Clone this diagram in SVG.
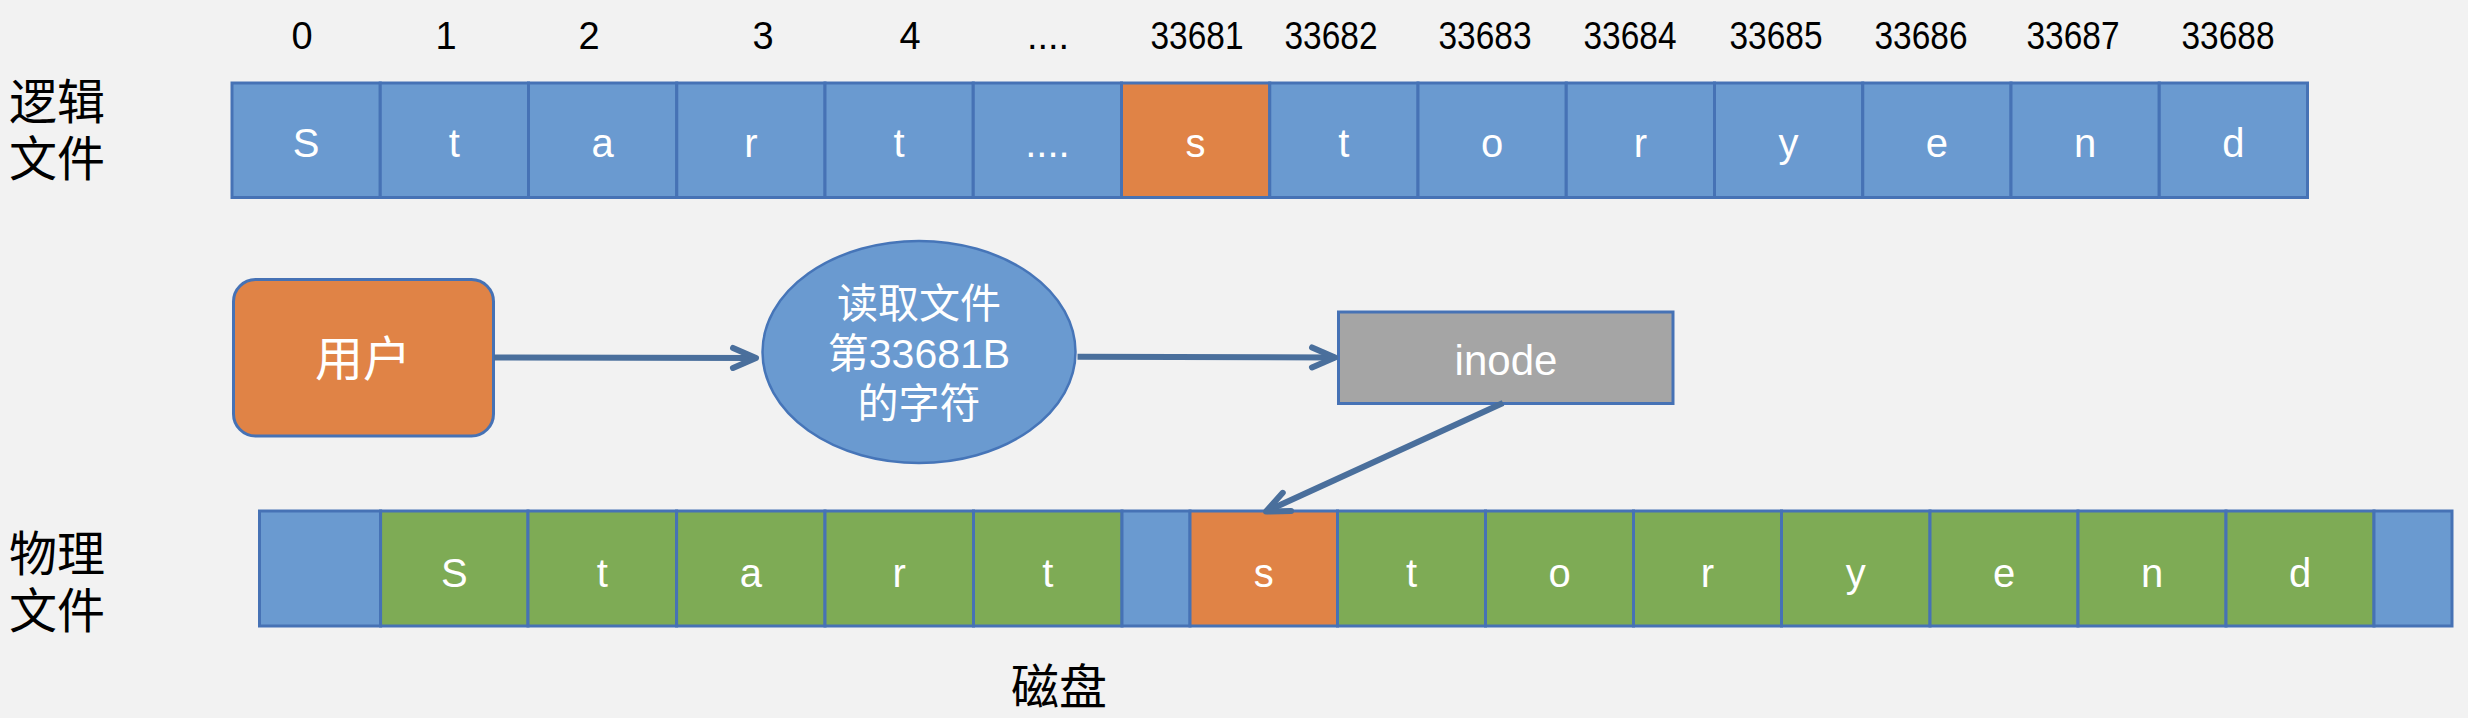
<svg xmlns="http://www.w3.org/2000/svg" width="2468" height="718" viewBox="0 0 2468 718">
<defs>
<style>
.bg{fill:#F2F2F2}
.cell{stroke:#4672B5;stroke-width:3}
.blue{fill:#6A9AD0}
.orange{fill:#E08346}
.green{fill:#7EAB55}
.gray{fill:#A5A5A5}
.ch{font-family:"Liberation Sans","Noto Sans CJK SC",sans-serif;font-size:40px;fill:#FFFFFF;text-anchor:middle}
.idx{font-family:"Liberation Sans","Noto Sans CJK SC",sans-serif;font-size:38px;fill:#000000;text-anchor:middle}
.lbl{font-family:"Noto Sans CJK SC",sans-serif;font-size:48px;fill:#000000}
.wt{font-family:"Liberation Sans","Noto Sans CJK SC",sans-serif;fill:#FFFFFF;text-anchor:middle}
.conn{fill:none;stroke:#4A6F9C;stroke-width:6}
</style>
<marker id="arr" markerUnits="userSpaceOnUse" markerWidth="40" markerHeight="40" viewBox="-30 -20 40 40" refX="0" refY="0" orient="auto">
<path d="M-23,-10 L0,0 L-23,10" fill="none" stroke="#4A6F9C" stroke-width="6" stroke-linecap="round" stroke-linejoin="round"/>
</marker>
</defs>
<rect class="bg" x="0" y="0" width="2468" height="718"/>

<g id="labels">
<text class="lbl" x="9" y="119">逻辑<tspan x="9" dy="57">文件</tspan></text>
<text class="lbl" x="9" y="571">物理<tspan x="9" dy="57">文件</tspan></text>
<text class="lbl" x="1059" y="704" text-anchor="middle">磁盘</text>
</g>

<g id="indices">
<text class="idx" x="302" y="49">0</text>
<text class="idx" x="446" y="49">1</text>
<text class="idx" x="589" y="49">2</text>
<text class="idx" x="763" y="49">3</text>
<text class="idx" x="910" y="49">4</text>
<text class="idx" x="1048" y="49">....</text>
<text class="idx" x="1197" y="49" textLength="93" lengthAdjust="spacingAndGlyphs">33681</text>
<text class="idx" x="1331" y="49" textLength="93" lengthAdjust="spacingAndGlyphs">33682</text>
<text class="idx" x="1485" y="49" textLength="93" lengthAdjust="spacingAndGlyphs">33683</text>
<text class="idx" x="1630" y="49" textLength="93" lengthAdjust="spacingAndGlyphs">33684</text>
<text class="idx" x="1776" y="49" textLength="93" lengthAdjust="spacingAndGlyphs">33685</text>
<text class="idx" x="1921" y="49" textLength="93" lengthAdjust="spacingAndGlyphs">33686</text>
<text class="idx" x="2073" y="49" textLength="93" lengthAdjust="spacingAndGlyphs">33687</text>
<text class="idx" x="2228" y="49" textLength="93" lengthAdjust="spacingAndGlyphs">33688</text>
</g>

<g id="logical-file">
<g id="l0"><rect class="cell blue" x="232" y="83" width="148.25" height="114.5"/><text class="ch" x="306.1" y="157">S</text></g>
<g id="l1"><rect class="cell blue" x="380.25" y="83" width="148.25" height="114.5"/><text class="ch" x="454.4" y="157">t</text></g>
<g id="l2"><rect class="cell blue" x="528.5" y="83" width="148.25" height="114.5"/><text class="ch" x="602.6" y="157">a</text></g>
<g id="l3"><rect class="cell blue" x="676.75" y="83" width="148.25" height="114.5"/><text class="ch" x="750.9" y="157">r</text></g>
<g id="l4"><rect class="cell blue" x="825" y="83" width="148.25" height="114.5"/><text class="ch" x="899.1" y="157">t</text></g>
<g id="l5"><rect class="cell blue" x="973.25" y="83" width="148.25" height="114.5"/><text class="ch" x="1047.4" y="157">....</text></g>
<g id="l6"><rect class="cell orange" x="1121.5" y="83" width="148.25" height="114.5"/><text class="ch" x="1195.6" y="157">s</text></g>
<g id="l7"><rect class="cell blue" x="1269.75" y="83" width="148.25" height="114.5"/><text class="ch" x="1343.9" y="157">t</text></g>
<g id="l8"><rect class="cell blue" x="1418" y="83" width="148.25" height="114.5"/><text class="ch" x="1492.1" y="157">o</text></g>
<g id="l9"><rect class="cell blue" x="1566.25" y="83" width="148.25" height="114.5"/><text class="ch" x="1640.4" y="157">r</text></g>
<g id="l10"><rect class="cell blue" x="1714.5" y="83" width="148.25" height="114.5"/><text class="ch" x="1788.6" y="157">y</text></g>
<g id="l11"><rect class="cell blue" x="1862.75" y="83" width="148.25" height="114.5"/><text class="ch" x="1936.9" y="157">e</text></g>
<g id="l12"><rect class="cell blue" x="2011" y="83" width="148.25" height="114.5"/><text class="ch" x="2085.1" y="157">n</text></g>
<g id="l13"><rect class="cell blue" x="2159.25" y="83" width="148.25" height="114.5"/><text class="ch" x="2233.4" y="157">d</text></g>
</g>

<g id="user">
<rect class="cell orange" x="233.5" y="279.5" width="260" height="156.5" rx="22" ry="22"/>
<text class="wt" x="363" y="376" font-size="48">用户</text>
</g>

<g id="read-request">
<ellipse cx="919" cy="352" rx="156.5" ry="111" fill="#6A9AD0" stroke="#4675B8" stroke-width="2.5"/>
<text class="wt" x="919" y="318" font-size="41">读取文件<tspan x="919" dy="50">第33681B</tspan><tspan x="919" dy="50">的字符</tspan></text>
</g>

<g id="inode">
<rect class="cell gray" x="1338.5" y="312" width="334.5" height="91.5"/>
<text class="wt" x="1506" y="375" font-size="42">inode</text>
</g>

<g id="physical-file">
<g id="p0"><rect class="cell blue" x="259.5" y="511" width="121.1" height="115"/></g>
<g id="p1"><rect class="cell green" x="380.6" y="511" width="147.4" height="115"/><text class="ch" x="454.3" y="587">S</text></g>
<g id="p2"><rect class="cell green" x="528" y="511" width="148.6" height="115"/><text class="ch" x="602.3" y="587">t</text></g>
<g id="p3"><rect class="cell green" x="676.6" y="511" width="148.4" height="115"/><text class="ch" x="750.8" y="587">a</text></g>
<g id="p4"><rect class="cell green" x="825" y="511" width="148.5" height="115"/><text class="ch" x="899.2" y="587">r</text></g>
<g id="p5"><rect class="cell green" x="973.5" y="511" width="148.5" height="115"/><text class="ch" x="1047.7" y="587">t</text></g>
<g id="p6"><rect class="cell blue" x="1122" y="511" width="68" height="115"/></g>
<g id="p7"><rect class="cell orange" x="1190" y="511" width="147.5" height="115"/><text class="ch" x="1263.7" y="587">s</text></g>
<g id="p8"><rect class="cell green" x="1337.5" y="511" width="148" height="115"/><text class="ch" x="1411.5" y="587">t</text></g>
<g id="p9"><rect class="cell green" x="1485.5" y="511" width="148" height="115"/><text class="ch" x="1559.5" y="587">o</text></g>
<g id="p10"><rect class="cell green" x="1633.5" y="511" width="148" height="115"/><text class="ch" x="1707.5" y="587">r</text></g>
<g id="p11"><rect class="cell green" x="1781.5" y="511" width="148.5" height="115"/><text class="ch" x="1855.7" y="587">y</text></g>
<g id="p12"><rect class="cell green" x="1930" y="511" width="148" height="115"/><text class="ch" x="2004" y="587">e</text></g>
<g id="p13"><rect class="cell green" x="2078" y="511" width="148" height="115"/><text class="ch" x="2152" y="587">n</text></g>
<g id="p14"><rect class="cell green" x="2226" y="511" width="148" height="115"/><text class="ch" x="2300" y="587">d</text></g>
<g id="p15"><rect class="cell blue" x="2374" y="511" width="78" height="115"/></g>
</g>

<g id="connectors">
<path class="conn" d="M494,357.5 L756,358" marker-end="url(#arr)"/>
<path class="conn" d="M1077.5,356.7 L1335,357.5" marker-end="url(#arr)"/>
<path class="conn" d="M1503,403 L1266,511.5" marker-end="url(#arr)"/>
</g>
</svg>
